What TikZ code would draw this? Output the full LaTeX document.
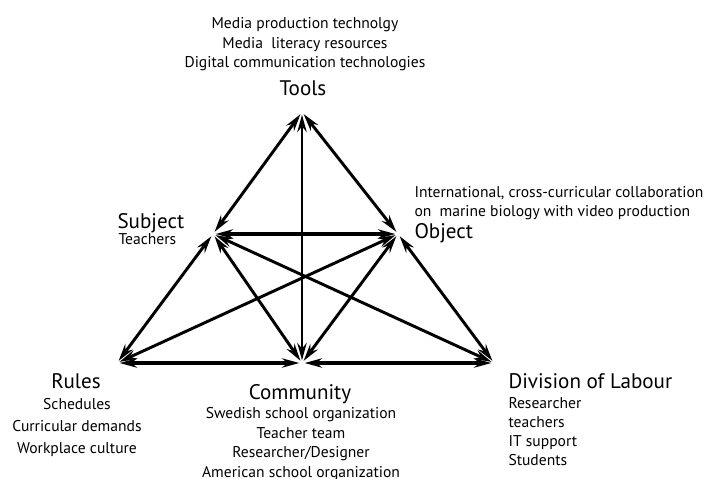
\documentclass[tikz,border=0pt]{standalone}
\usepackage{fontspec}
\setmainfont{PT Sans}
\usetikzlibrary{arrows.meta}

\tikzset{every picture/.style={line width=0.75pt}}
\tikzset{
  link/.style={{Stealth[length=13pt,width=7pt]}-{Stealth[length=13pt,width=7pt]}, line width=2.2pt, shorten >=2pt, shorten <=2pt},
  biglbl/.style={inner sep=0pt, font=\fontsize{15.8}{18}\selectfont},
  smalltxt/.style={inner sep=0pt, font=\fontsize{11.7}{13}\selectfont},
}

\begin{document}
\begin{tikzpicture}[x=0.75pt,y=0.75pt,yscale=-1,xscale=1]
	\useasboundingbox (0,0) rectangle (706,478);

	% corners of the triangles
	\coordinate (tools) at (302,112);
	\coordinate (subject) at (213,234);
	\coordinate (object) at (398,234);
	\coordinate (rules) at (117,363);
	\coordinate (community) at (302,363);
	\coordinate (division) at (494,363);

	% arrows
	\draw [link] (tools) -- (subject);
	\draw [link] (tools) -- (object);
	\draw [link] (tools) -- (community);
	\draw [link, line width=2.6pt] (subject) -- (object);
	\draw [link] (subject) -- (rules);
	\draw [link] (subject) -- (community);
	\draw [link] (subject) -- (division);
	\draw [link] (object) -- (rules);
	\draw [link] (object) -- (community);
	\draw [link] (object) -- (division);
	\draw [link, line width=2.6pt] (rules) -- (community);
	\draw [link, line width=2.6pt] (community) -- (division);

	% Tools
	\node [biglbl, anchor=base] (toolslbl) at (303,95) {Tools};
	\foreach \txt [count=\i] in {Media production technolgy, Media\ \ literacy resources, Digital communication technologies}
		\node [smalltxt, anchor=base] (tools\i) at (305,9.5+19.5*\i) {\txt};

	% Subject
	\node [biglbl, anchor=base west] (subjectlbl) at (117,228) {Subject};
	\node [smalltxt, anchor=base west] (subject1) at (118,244) {Teachers};

	% Object
	\node [biglbl, anchor=base west] (objectlbl) at (414,238) {Object};
	\node [smalltxt, anchor=base west] (object1) at (414,197) {International,\ cross-curricular collaboration};
	\node [smalltxt, anchor=base west] (object2) at (414,216) {on\ \ marine biology with video production};

	% Rules
	\node [biglbl, anchor=base] (ruleslbl) at (76,388) {Rules};
	\foreach \txt [count=\i] in {Schedules, Curricular demands, Workplace culture}
		\node [smalltxt, anchor=base] (rules\i) at (77,387+22*\i) {\txt};

	% Community
	\node [biglbl, anchor=base] (communitylbl) at (300,399) {Community};
	\foreach \txt [count=\i] in {Swedish school organization, Teacher team, Researcher/Designer, American school organization}
		\node [smalltxt, anchor=base] (community\i) at (301,399+19.5*\i) {\txt};

	% Division of Labour
	\node [biglbl, anchor=base west] (divisionlbl) at (508,388) {Division of Labour};
	\foreach \txt [count=\i] in {Researcher, teachers, IT support, Students}
		\node [smalltxt, anchor=base west] (division\i) at (508,389+19*\i) {\txt};

\end{tikzpicture}
\end{document}
